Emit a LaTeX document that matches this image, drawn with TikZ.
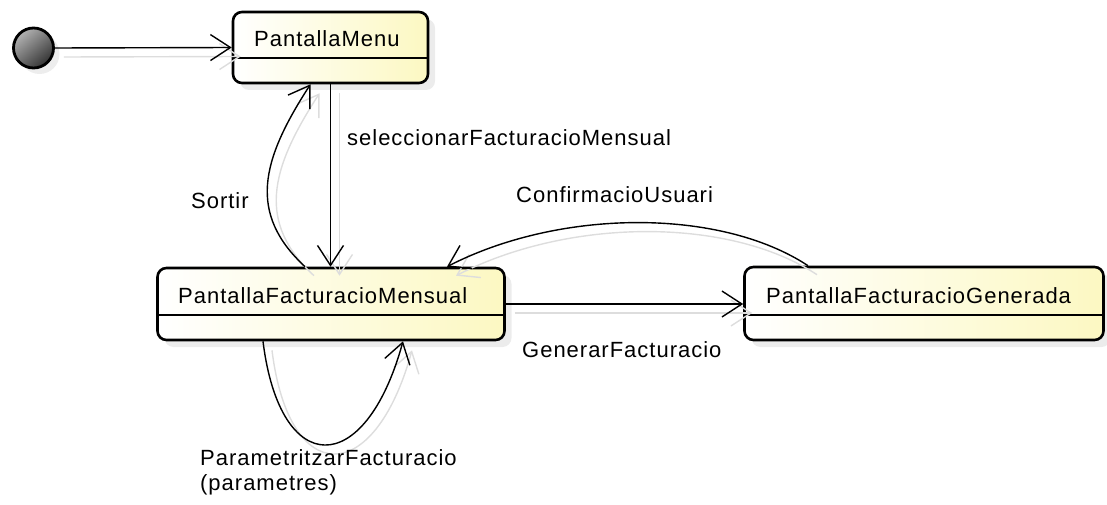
\documentclass[tikz,border=0pt]{standalone}
\usepackage{fontspec}
\setmainfont[LetterSpace=4.5]{Liberation Sans}
\usetikzlibrary{arrows.meta,shadows,calc}

\definecolor{stateyellow}{HTML}{FCF8C2}
\definecolor{edgeshadow}{HTML}{DDDDDD}

\tikzset{
  statebox/.style={draw=black, line width=2.6pt, rounded corners=9pt,
    left color=white, right color=stateyellow,
    drop shadow={shadow xshift=7pt, shadow yshift=-7pt, fill=black!15}},
  initstate/.style={circle, draw=black, line width=2.8pt, minimum size=40pt,
    inner sep=0pt, shading=axis, top color=black!30, bottom color=black!80,
    shading angle=40,
    drop shadow={shadow xshift=6pt, shadow yshift=-6pt, fill=black!14}},
  divider/.style={line width=1.4pt},
  txt/.style={inner sep=0pt, font=\fontsize{22}{25}\selectfont},
  conn/.style={line width=1.4pt,
    -{Straight Barb[length=20pt,width=26pt,line width=1.4pt]}},
}

% all transitions; #1 = extra style (used for the soft shadow copy)
\newcommand\transitions[1]{%
  \draw[conn,#1] (init.east) -- (menu.west);
  \draw[conn,#1] (menu.south) -- (menu.south |- fm.north);
  \draw[conn,#1] ([xshift=-26pt]fm.north) .. controls +(-57,-53) and +(-50,77) .. ([xshift=-20pt]menu.south);
  \draw[conn,#1] ([xshift=-116pt]fg.north) .. controls +(-88,-58) and +(113,-58) .. ([xshift=116pt]fm.north);
  \draw[conn,#1] (fm.east) -- (fm.east -| fg.west);
  \draw[conn,#1] ([xshift=-68pt]fm.south) .. controls +(17,138) and +(-38,138) .. ([xshift=72pt]fm.south);
}

\begin{document}
\begin{tikzpicture}[x=1pt, y=-1pt]
  \useasboundingbox (0,0) rectangle (1107,505);

  % states
  \node[initstate] (init) at (33.5,48) {};
  \node[statebox, minimum width=195pt, minimum height=71pt] (menu) at (330.5,47.5) {};
  \node[statebox, minimum width=347pt, minimum height=72pt] (fm) at (331,304) {};
  \node[statebox, minimum width=359pt, minimum height=73pt] (fg) at (924,303.5) {};

  % compartment lines
  \draw[divider] (menu.west |- 0,58) -- (menu.east |- 0,58);
  \draw[divider] (fm.west |- 0,315) -- (fm.east |- 0,315);
  \draw[divider] (fg.west |- 0,315) -- (fg.east |- 0,315);

  % state names
  \node[txt, anchor=base west] (menuT) at (254,47) {PantallaMenu};
  \node[txt, anchor=base west] (fmT) at (178,303) {PantallaFacturacioMensual};
  \node[txt, anchor=base west] (fgT) at (766,303) {PantallaFacturacioGenerada};

  % soft shadows of the transitions, then the transitions
  \begin{scope}[transform canvas={shift={(9pt,-9pt)}}]
    \transitions{draw=edgeshadow}
  \end{scope}
  \transitions{}

  % transition labels
  \node[txt, anchor=base west] (selL) at (347,146) {seleccionarFacturacioMensual};
  \node[txt, anchor=base west] (sortL) at (191,208) {Sortir};
  \node[txt, anchor=base west] (confL) at (516,202) {ConfirmacioUsuari};
  \node[txt, anchor=base west] (genL) at (522,357) {GenerarFacturacio};
  \node[txt, anchor=base west] (parL1) at (200,465) {ParametritzarFacturacio};
  \node[txt, anchor=base west] (parL2) at (200,490) {(parametres)};
\end{tikzpicture}
\end{document}
